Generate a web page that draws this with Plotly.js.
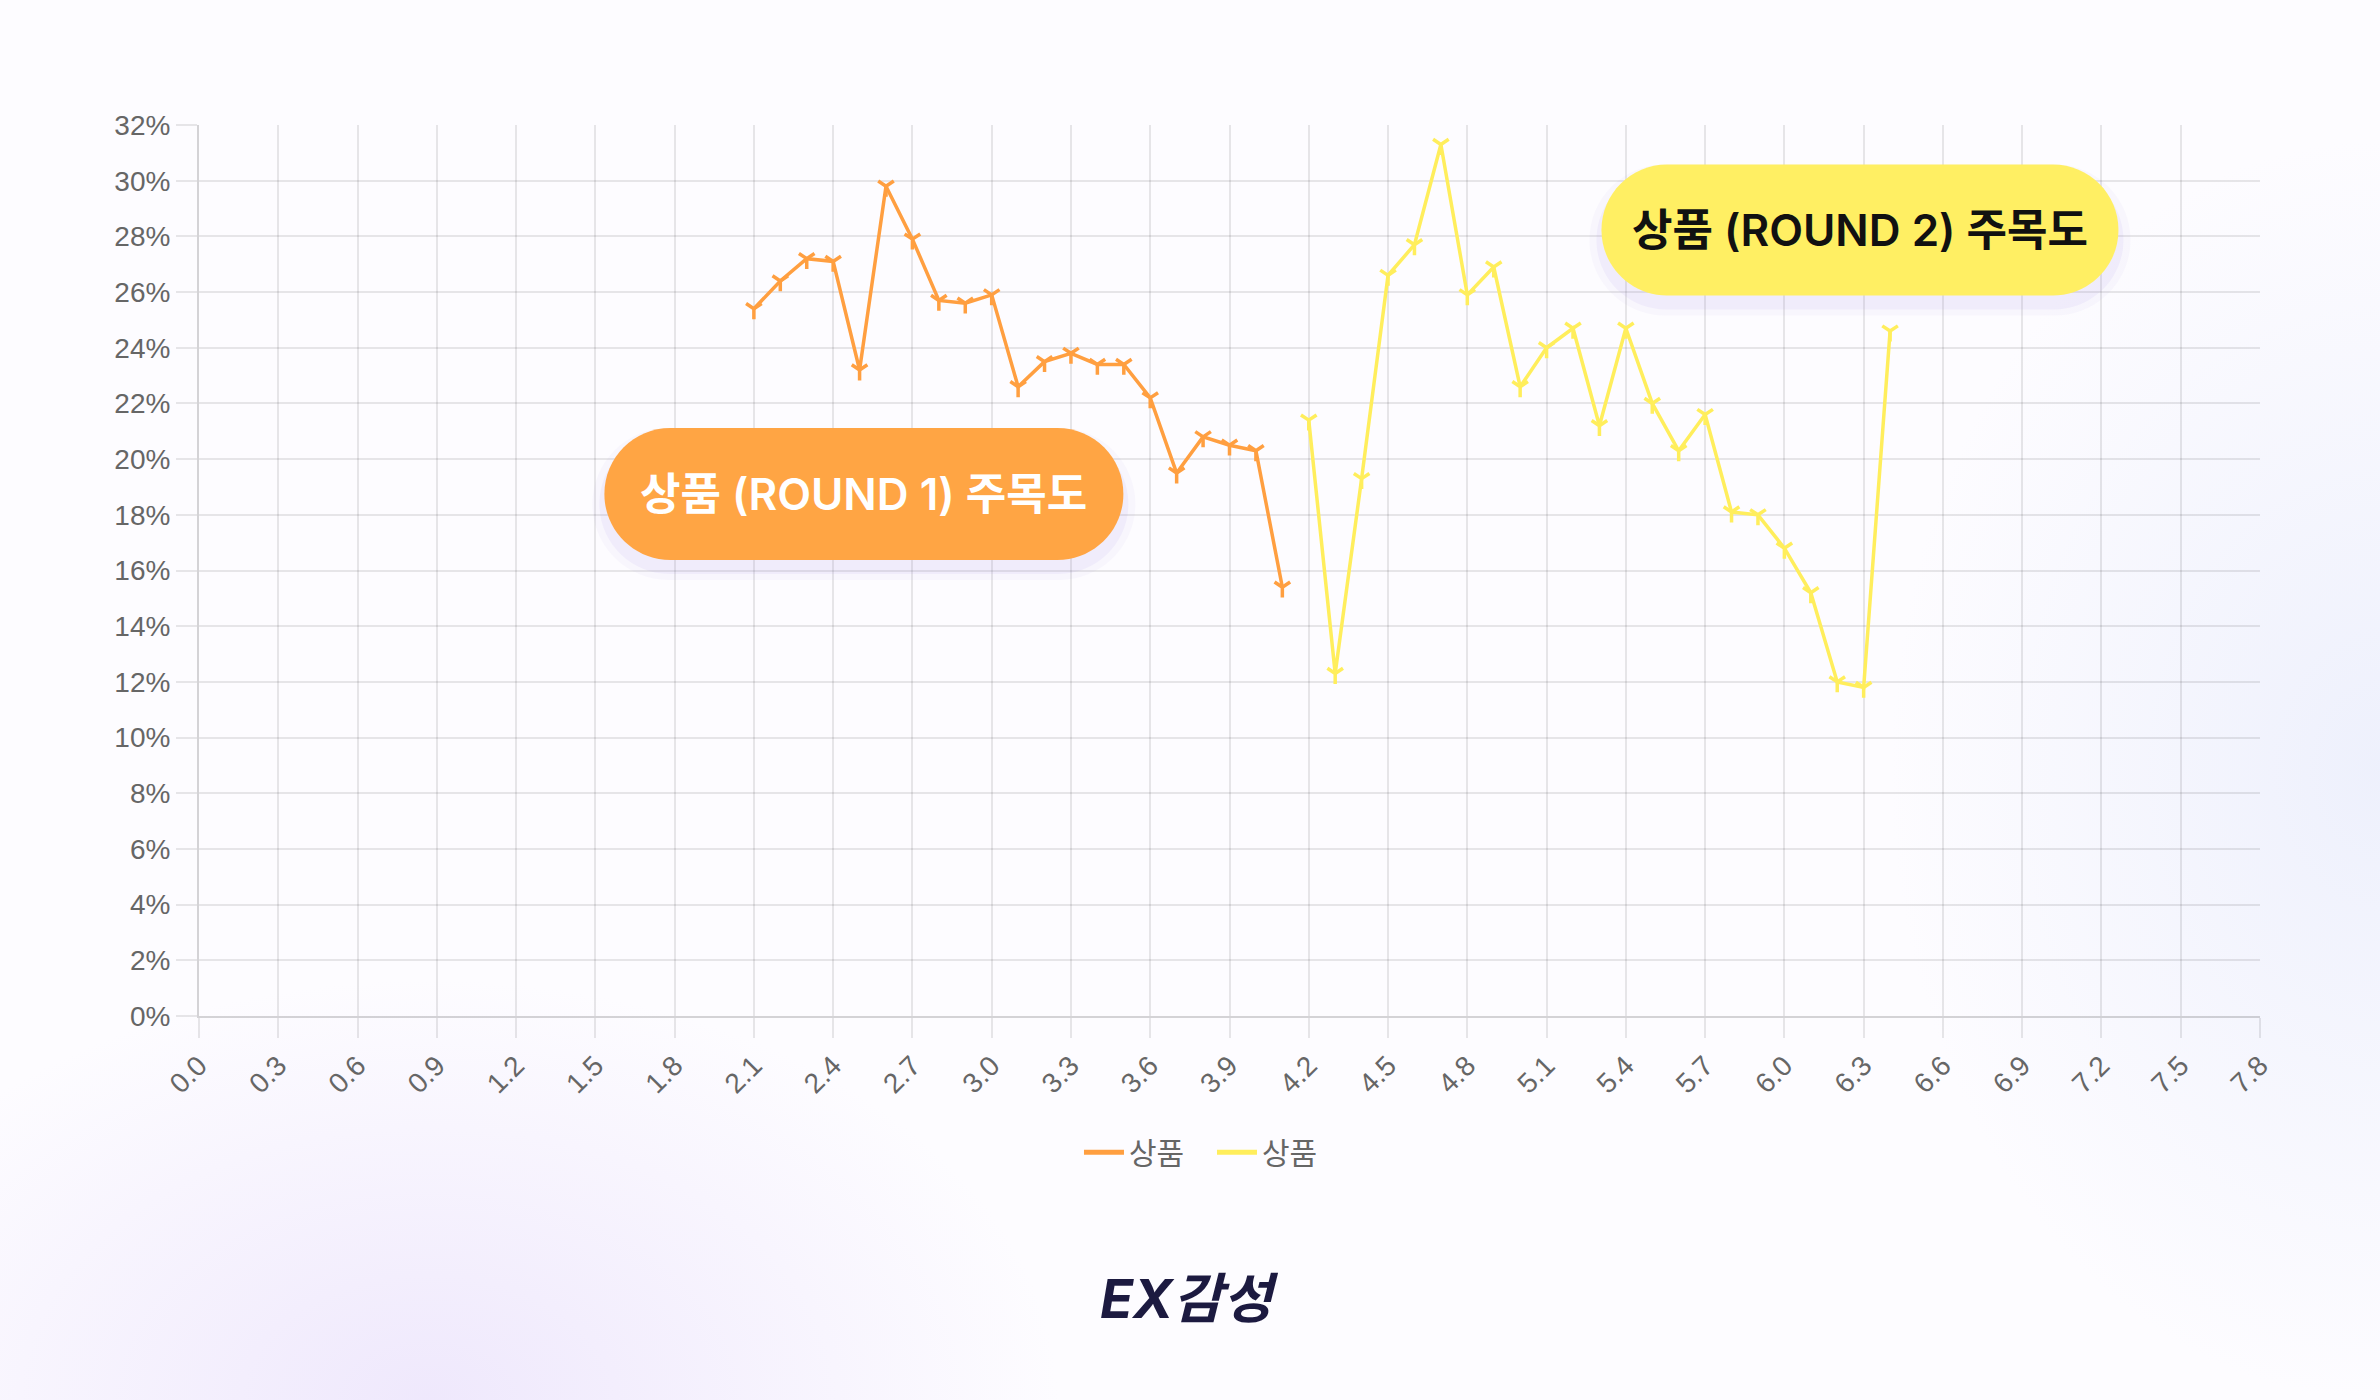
<!DOCTYPE html>
<html>
<head>
<meta charset="utf-8">
<script src="https://cdn.plot.ly/plotly-3.0.1.min.js"></script>
<style>
	html, body {
		margin: 0;
		padding: 0;
	}
	body {
		width: 2380px;
		height: 1400px;
		background:
			radial-gradient(ellipse 900px 600px at 18% 100%, rgba(238, 231, 252, 0.95), rgba(255, 255, 255, 0) 70%),
			radial-gradient(ellipse 700px 900px at 100% 55%, rgba(236, 239, 252, 0.9), rgba(255, 255, 255, 0) 70%),
			#fdfcff;
	}
	#chart {
		width: 2380px;
		height: 1400px;
	}
</style>
</head>
<body>
<div id="chart"></div>
<script>
/*	данные	*/
var x1 = [2.1, 2.2, 2.3, 2.4, 2.5, 2.6, 2.7, 2.8, 2.9, 3.0, 3.1, 3.2, 3.3, 3.4, 3.5, 3.6, 3.7, 3.8, 3.9, 4.0, 4.1];
var round1 = [25.4, 26.4, 27.2, 27.1, 23.2, 29.8, 27.9, 25.7, 25.6, 25.9, 22.6, 23.5, 23.8, 23.4, 23.4, 22.2, 19.5, 20.8, 20.5, 20.3, 15.4];

var x2 = [4.2, 4.3, 4.4, 4.5, 4.6, 4.7, 4.8, 4.9, 5.0, 5.1, 5.2, 5.3, 5.4, 5.5, 5.6, 5.7, 5.8, 5.9, 6.0, 6.1, 6.2, 6.3, 6.4];
var round2 = [21.4, 12.3, 19.3, 26.6, 27.7, 31.3, 25.9, 26.9, 22.6, 24.0, 24.7, 21.2, 24.7, 22.0, 20.3, 21.6, 18.1, 18.0, 16.8, 15.2, 12.0, 11.8, 24.6];

var seriesNames = ['상품', '상품'];
var labels = ['상품 (ROUND 1) 주목도', '상품 (ROUND 2) 주목도'];
var logoText = 'EX감성';

var orange = '#ff9f40';
var yellow = '#ffee5c';
var gridColor = 'rgba(0,0,0,0.09)';
var tickFont = {family: 'Liberation Sans, Arial, sans-serif', size: 28, color: '#666666'};
var krFont = 'Inter, "Noto Sans CJK KR", sans-serif';

//таблетка (pill) в пикселях вокруг точки привязки
function pillPath(w, h){
	var r = h / 2;
	var a = w / 2 - r;
	var k = 0.5523 * r;
	return 'M' + (-a) + ',' + r +
		' L' + a + ',' + r +
		' C' + (a + k) + ',' + r + ' ' + (a + r) + ',' + k + ' ' + (a + r) + ',0' +
		' C' + (a + r) + ',' + (-k) + ' ' + (a + k) + ',' + (-r) + ' ' + a + ',' + (-r) +
		' L' + (-a) + ',' + (-r) +
		' C' + (-a - k) + ',' + (-r) + ' ' + (-a - r) + ',' + (-k) + ' ' + (-a - r) + ',0' +
		' C' + (-a - r) + ',' + k + ' ' + (-a - k) + ',' + r + ' ' + (-a) + ',' + r + ' Z';
}

function pill(cx, cy, w, h, fill){
	return {
		type: 'path',
		xref: 'paper', yref: 'paper',
		xsizemode: 'pixel', ysizemode: 'pixel',
		xanchor: cx, yanchor: cy,
		path: pillPath(w, h),
		fillcolor: fill,
		line: {width: 0},
		layer: 'above'
	};
}

//тень + сама таблетка
function pillWithShadow(cx, cy, w, h, fill){
	var dy = 10 / 891;
	return [
		pill(cx, cy - dy, w + 24, h + 20, 'rgba(150,130,225,0.05)'),
		pill(cx, cy - dy, w + 10, h + 8, 'rgba(150,130,225,0.08)'),
		pill(cx, cy, w, h, fill)
	];
}

function label(x, y, text, color){
	return {
		xref: 'paper', yref: 'paper', x: x, y: y,
		xanchor: 'center', yanchor: 'middle',
		text: text, showarrow: false,
		font: {family: krFont, size: 44, color: color, weight: 600}
	};
}

function draw(){
	var lineA = {
		x: x1,
		y: round1,
		type: 'scatter',
		mode: 'lines+markers',
		showlegend: false,
		line: {color: orange, width: 3.5},
		marker: {symbol: 'y-down', size: 13, line: {color: orange, width: 3.5}},
		hoverinfo: 'skip'
	};

	var lineB = {
		x: x2,
		y: round2,
		type: 'scatter',
		mode: 'lines+markers',
		showlegend: false,
		line: {color: yellow, width: 3.5},
		marker: {symbol: 'y-down', size: 13, line: {color: yellow, width: 3.5}},
		hoverinfo: 'skip'
	};

	//только для легенды
	var legA = {x: [null], y: [null], type: 'scatter', mode: 'lines', name: seriesNames[0], line: {color: orange, width: 5}};
	var legB = {x: [null], y: [null], type: 'scatter', mode: 'lines', name: seriesNames[1], line: {color: yellow, width: 5}};

	var shapes = pillWithShadow(0.3226, 0.5859, 519, 132, '#ffa544')
		.concat(pillWithShadow(0.8059, 0.8822, 517, 131, '#ffef63'));

	var layout = {
		width: 2380,
		height: 1400,
		margin: {l: 199, r: 120, t: 125, b: 384},
		paper_bgcolor: 'rgba(0,0,0,0)',
		plot_bgcolor: 'rgba(0,0,0,0)',
		showlegend: true,
		legend: {
			orientation: 'h',
			x: 0.4915, xanchor: 'center',
			y: -0.153, yanchor: 'middle',
			font: {family: krFont, size: 30, color: '#666666'},
			bgcolor: 'rgba(0,0,0,0)',
			itemwidth: 40,
			entrywidth: 78,
			entrywidthmode: 'pixels'
		},
		xaxis: {
			range: [0, 7.8],
			tick0: 0,
			dtick: 0.3,
			tickformat: '.1f',
			tickangle: -45,
			tickfont: tickFont,
			showgrid: true,
			gridcolor: gridColor,
			gridwidth: 2,
			zeroline: false,
			showline: true,
			linecolor: 'rgba(0,0,0,0.16)',
			linewidth: 2,
			ticks: 'outside',
			ticklen: 20,
			tickwidth: 2,
			tickcolor: gridColor,
			fixedrange: true
		},
		yaxis: {
			range: [0, 32],
			tick0: 0,
			dtick: 2,
			ticksuffix: '%',
			tickfont: tickFont,
			showgrid: true,
			gridcolor: gridColor,
			gridwidth: 2,
			zeroline: false,
			showline: true,
			linecolor: 'rgba(0,0,0,0.16)',
			linewidth: 2,
			ticks: 'outside',
			ticklen: 21,
			tickwidth: 2,
			tickcolor: gridColor,
			fixedrange: true
		},
		shapes: shapes,
		annotations: [
			label(0.3226, 0.5859, labels[0], '#ffffff'),
			label(0.8059, 0.8822, labels[1], '#111111'),
			{
				xref: 'paper', yref: 'paper', x: 0.4804, y: -0.3165,
				xanchor: 'center', yanchor: 'middle',
				text: logoText, showarrow: false,
				font: {family: krFont, size: 54, color: '#1c1a40', weight: 700, style: 'italic'}
			}
		]
	};

	var data = [lineA, lineB, legA, legB];
	Plotly.newPlot('chart', data, layout, {displayModeBar: false, staticPlot: true});
}

draw();
</script>
</body>
</html>
